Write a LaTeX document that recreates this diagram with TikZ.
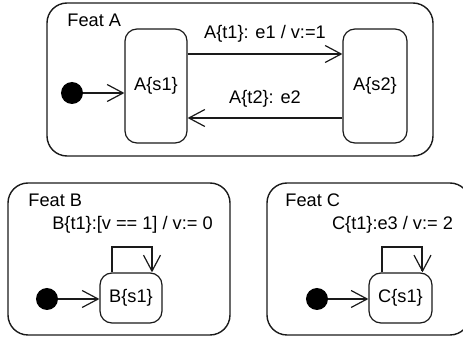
\documentclass[tikz,border=0pt]{standalone}
\usepackage{fontspec}
\setmainfont{Liberation Sans}
\usetikzlibrary{arrows.meta,positioning,calc}
\definecolor{inkgray}{HTML}{1A1A1A}

\tikzset{
  featbox/.style={draw=inkgray, line width=0.7pt, rounded corners=10pt},
  statebox/.style={draw=inkgray, line width=0.6pt, rounded corners=6pt, fill=white, inner sep=0pt},
  initdot/.style={circle, fill=black, minimum size=11pt, inner sep=0pt},
  trans/.style={draw=inkgray, line width=1pt, -{Straight Barb[length=8pt,width=8.5pt,line width=0.6pt]}},
  lbl/.style={font=\fontsize{9.1pt}{10pt}\selectfont, inner sep=0pt}
}

\begin{document}
\begin{tikzpicture}[x=0.5pt, y=-0.5pt]
\useasboundingbox (0,0) rectangle (463,337);

% Feat A
\node[featbox, minimum width=193pt, minimum height=76.5pt] (featA) at (240,79.5) {};
\node[lbl, anchor=west] (featAname) at (67,20) {Feat A};
\node[initdot] (initA) at (72,93) {};
\node[statebox, minimum width=31pt, minimum height=57pt] (as1) at (156,86) {\fontsize{9.1pt}{10pt}\selectfont A\{s1\}};
\node[statebox, minimum width=32pt, minimum height=57pt] (as2) at (375,86) {\fontsize{9.1pt}{10pt}\selectfont A\{s2\}};
\draw[trans] (initA) -- (initA -| as1.west);
\draw[trans] ([yshift=16pt]as1.east) -- node[lbl, above=5.5pt] (at1) {A\{t1\}: e1 / v:=1} ([yshift=16pt]as2.west);
\draw[trans] ([yshift=-16pt]as2.west) -- node[lbl, above=5pt] (at2) {A\{t2\}: e2} ([yshift=-16pt]as1.east);

% Feat B
\node[featbox, minimum width=111pt, minimum height=76pt] (featB) at (119,259) {};
\node[lbl, anchor=west] (featBname) at (28,200) {Feat B};
\node[lbl] (bt1) at (132.5,225) {B\{t1\}:[v == 1] / v:= 0};
\node[initdot] (initB) at (47,299) {};
\node[statebox, minimum width=31pt, minimum height=25pt] (bs1) at (131,298) {\fontsize{9.1pt}{10pt}\selectfont B\{s1\}};
\draw[trans] (initB) -- (initB -| bs1.west);
\draw[trans] ([xshift=-9.5pt]bs1.north) -- ++(0,12.5pt) -| ([xshift=10.5pt]bs1.north);

% Feat C
\node[featbox, minimum width=101.5pt, minimum height=76pt] (featC) at (368.5,259) {};
\node[lbl, anchor=west] (featCname) at (285,200) {Feat C};
\node[lbl] (ct1) at (392.5,225) {C\{t1\}:e3 / v:= 2};
\node[initdot] (initC) at (317,299) {};
\node[statebox, minimum width=31.5pt, minimum height=25pt] (cs1) at (400.5,298) {\fontsize{9.1pt}{10pt}\selectfont C\{s1\}};
\draw[trans] (initC) -- (initC -| cs1.west);
\draw[trans] ([xshift=-9pt]cs1.north) -- ++(0,12.5pt) -| ([xshift=11pt]cs1.north);
\end{tikzpicture}
\end{document}
